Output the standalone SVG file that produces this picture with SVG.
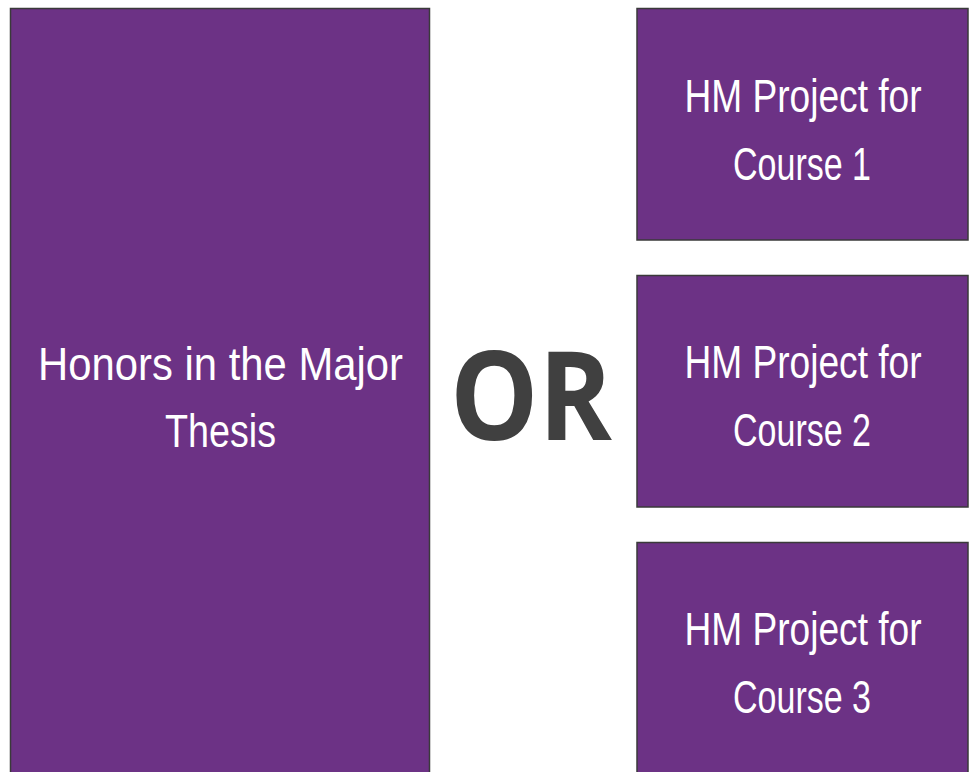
<svg xmlns="http://www.w3.org/2000/svg" width="969" height="772" viewBox="0 0 969 772">
<style>
.box{fill:#6c3285;stroke:#3a3a3a;stroke-width:1.5}
.t{fill:#ffffff;font-family:"Liberation Sans",Arial,sans-serif;font-size:47px;text-anchor:middle}
.or{fill:#404040;font-family:"Open Sans","Liberation Sans",sans-serif;font-weight:bold;font-size:123px;text-anchor:middle}
</style>
<rect width="969" height="772" fill="#ffffff"/>
<g id="thesis">
<rect class="box" x="10.5" y="8.5" width="419" height="770"/>
<text class="t" x="220.5" y="380" textLength="365" lengthAdjust="spacingAndGlyphs">Honors in the Major</text>
<text class="t" x="220.5" y="447" textLength="111" lengthAdjust="spacingAndGlyphs">Thesis</text>
</g>
<g id="or">
<text class="or" x="531" y="440" textLength="162" lengthAdjust="spacingAndGlyphs">OR</text>
</g>
<g id="course1">
<rect class="box" x="637" y="8.5" width="331" height="231.5"/>
<text class="t" transform="translate(803,112) scale(0.79,1)" x="0" y="0">HM Project for</text>
<text class="t" x="802" y="180" textLength="138" lengthAdjust="spacingAndGlyphs">Course 1</text>
</g>
<g id="course2">
<rect class="box" x="637" y="275.5" width="331" height="231.5"/>
<text class="t" transform="translate(803,378) scale(0.79,1)" x="0" y="0">HM Project for</text>
<text class="t" x="802" y="446" textLength="138" lengthAdjust="spacingAndGlyphs">Course 2</text>
</g>
<g id="course3">
<rect class="box" x="637" y="542.5" width="331" height="240"/>
<text class="t" transform="translate(803,645) scale(0.79,1)" x="0" y="0">HM Project for</text>
<text class="t" x="802" y="713" textLength="138" lengthAdjust="spacingAndGlyphs">Course 3</text>
</g>
<g id="connectors"></g>
</svg>
